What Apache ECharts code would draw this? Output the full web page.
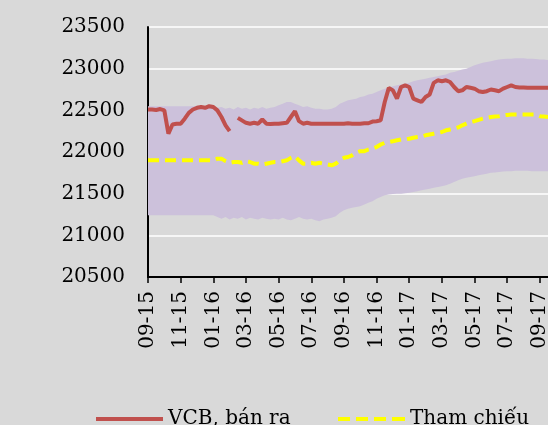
<!DOCTYPE html>
<html>
<head>
<meta charset="utf-8">
<script src="https://cdn.jsdelivr.net/npm/echarts@6/dist/echarts.min.js"></script>
<style>
  html, body { margin: 0; padding: 0; background: #d9d9d9; }
  #chart { width: 548px; height: 425px; }
</style>
</head>
<body>
<div id="chart"></div>
<script>
// tick labels, every 8 weekly points
var tickLabels = ['09-15', '11-15', '01-16', '03-16', '05-16', '07-16', '09-16', '11-16', '01-17', '03-17', '05-17', '07-17', '09-17'];

// VCB selling rate (weekly)
var vcb = [
  22510, 22510, 22505, 22515, 22500, 22220, 22330, 22340, 22340, 22400,
  22470, 22510, 22530, 22540, 22530, 22550, 22540, 22500, 22420, 22320,
  22250, null, 22410, 22380, 22350, 22340, 22350, 22340, 22390, 22340,
  22335, 22340, 22340, 22345, 22350, 22420, 22490, 22370, 22340, 22350,
  22340, 22340, 22340, 22340, 22340, 22340, 22340, 22340, 22340, 22345,
  22340, 22340, 22340, 22345, 22345, 22365, 22370, 22380, 22600, 22770,
  22740, 22640, 22780, 22800, 22780, 22640, 22620, 22600, 22660, 22690,
  22830, 22860, 22850, 22860, 22840, 22780, 22730, 22740, 22780, 22770,
  22760, 22730, 22720, 22730, 22750, 22740, 22730, 22760, 22780, 22800,
  22780, 22775, 22775, 22770, 22770, 22770, 22770, 22770, 22770
];

// reference rate
var ref = [
  21900, 21900, 21900, 21900, 21900, 21900, 21900, 21900, 21900, 21900,
  21900, 21900, 21900, 21900, 21900, 21900, 21900, 21920, 21920, 21890,
  21870, 21880, 21880, 21870, 21890, 21880, 21860, 21860, 21850, 21860,
  21870, 21880, 21880, 21890, 21900, 21930, 21950, 21900, 21860, 21860,
  21870, 21860, 21870, 21860, 21850, 21840, 21860, 21900, 21930, 21940,
  21960, 21990, 22010, 22010, 22030, 22040, 22060, 22090, 22110, 22120,
  22130, 22140, 22150, 22150, 22160, 22170, 22180, 22185, 22200, 22210,
  22220, 22230, 22240, 22260, 22270, 22280, 22295, 22320, 22340, 22360,
  22370, 22385, 22400, 22410, 22420, 22425, 22430, 22440, 22445, 22450,
  22450, 22450, 22450, 22450, 22450, 22450, 22430, 22425, 22420
];

// band edges
var upper = [
  22550, 22550, 22550, 22550, 22550, 22550, 22550, 22550, 22550, 22550,
  22550, 22550, 22550, 22550, 22550, 22550, 22550, 22530, 22540, 22520,
  22530, 22510, 22540, 22520, 22530, 22510, 22530, 22520, 22540, 22520,
  22530, 22540, 22560, 22580, 22600, 22600, 22580, 22560, 22540, 22550,
  22530, 22520, 22520, 22510, 22510, 22520, 22540, 22580, 22600, 22620,
  22630, 22640, 22660, 22670, 22690, 22700, 22720, 22740, 22760, 22770,
  22790, 22800, 22810, 22820, 22830, 22850, 22860, 22870, 22880, 22890,
  22900, 22910, 22920, 22930, 22950, 22960, 22975, 22990, 23000, 23020,
  23040, 23055, 23070, 23080, 23090, 23100, 23110, 23115, 23120, 23120,
  23125, 23125, 23125, 23120, 23120, 23115, 23110, 23110, 23105
];
var lower = [
  21240, 21240, 21240, 21240, 21240, 21240, 21240, 21240, 21240, 21240,
  21240, 21240, 21240, 21240, 21240, 21240, 21240, 21220, 21200, 21220,
  21190, 21210, 21200, 21220, 21190, 21210, 21200, 21190, 21210, 21200,
  21190, 21200, 21190, 21210, 21190, 21180, 21200, 21220, 21200, 21190,
  21200, 21180, 21170, 21190, 21200, 21210, 21230, 21270, 21300, 21320,
  21330, 21340, 21350, 21370, 21390, 21410, 21440, 21460, 21480, 21490,
  21495, 21500, 21500, 21505, 21510, 21520, 21530, 21540, 21550, 21560,
  21570, 21580, 21590, 21600, 21620, 21640, 21660, 21680, 21690, 21700,
  21710, 21720, 21730, 21740, 21750, 21755, 21760, 21765, 21770, 21770,
  21775, 21775, 21775, 21775, 21770, 21770, 21770, 21770, 21770
];

var categories = [];
tickLabels.forEach(function(t) {
  for (var k = 0; k < 8; k++) categories.push(t + '#' + k);
});
categories = categories.slice(0, vcb.length);
var bandWidth = upper.map(function(u, i) { return u - lower[i]; });

var font = 'DejaVu Serif';
var legendText = { fontFamily: font, fontSize: 20, color: '#000' };
var solidIcon = 'path://M0,0h67v4h-67z';
var dashIcon = 'path://M0,0h12v4h-12z M18,0h12v4h-12z M36,0h12v4h-12z M54,0h13v4h-13z';

var chart = echarts.init(document.getElementById('chart'), null, { renderer: 'canvas' });
chart.setOption({
  animation: false,
  backgroundColor: '#d9d9d9',
  grid: { left: 148, right: 0, top: 27, bottom: 148, outerBoundsMode: 'none' },
  legend: [
    {
      data: [{ name: 'VCB, bán ra', icon: solidIcon }],
      left: 91, top: 404,
      itemWidth: 67, itemHeight: 4, itemGap: 0,
      textStyle: legendText
    },
    {
      data: [{ name: 'Tham chiếu', icon: dashIcon }],
      left: 333, top: 404,
      itemWidth: 67, itemHeight: 4, itemGap: 0,
      textStyle: legendText
    }
  ],
  xAxis: {
    type: 'category',
    data: categories,
    boundaryGap: false,
    axisLine: { lineStyle: { color: '#000', width: 2 } },
    axisTick: { show: true, interval: 7, length: 6, lineStyle: { color: '#000', width: 1.5 } },
    axisLabel: {
      interval: 7, rotate: 90, margin: 14,
      fontFamily: font, fontSize: 20, color: '#000',
      formatter: function(v) { return v.split('#')[0]; }
    },
    splitLine: { show: false }
  },
  yAxis: {
    type: 'value',
    min: 20500, max: 23500, interval: 500,
    axisLine: { show: true, lineStyle: { color: '#000', width: 2 } },
    axisTick: { show: false },
    axisLabel: {
      margin: 23, fontFamily: font, fontSize: 20, color: '#000',
      formatter: function(v) { return String(v); }
    },
    splitLine: { lineStyle: { color: '#ffffff', width: 1.5 } }
  },
  series: [
    {
      name: 'lower', type: 'line', stack: 'band', data: lower,
      symbol: 'none', lineStyle: { opacity: 0 }, silent: true
    },
    {
      name: 'band', type: 'line', stack: 'band', data: bandWidth,
      symbol: 'none', lineStyle: { opacity: 0 },
      areaStyle: { color: '#ccc1db', opacity: 1 }, silent: true
    },
    {
      name: 'VCB, bán ra', type: 'line', data: vcb,
      symbol: 'none',
      lineStyle: { color: '#c0504d', width: 4 },
      itemStyle: { color: '#c0504d' }
    },
    {
      name: 'Tham chiếu', type: 'line', data: ref,
      symbol: 'none',
      lineStyle: { color: '#ffff00', width: 4, type: [11, 6] },
      itemStyle: { color: '#ffff00' }
    }
  ]
});
</script>
</body>
</html>
